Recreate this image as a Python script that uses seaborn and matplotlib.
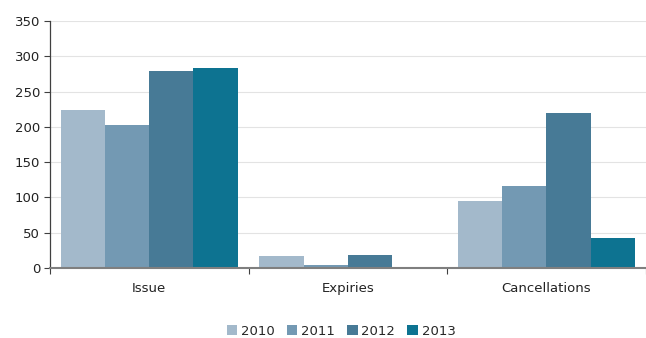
import matplotlib
matplotlib.use("Agg")
import matplotlib.pyplot as plt
import seaborn as sns
import pandas as pd
from matplotlib.patches import Patch

categories = ["Issue", "Expiries", "Cancellations"]
years = ["2010", "2011", "2012", "2013"]
values_2010 = [224, 17, 95]
values_2011 = [203, 4, 116]
values_2012 = [279, 18, 219]
values_2013 = [284, 0, 42]
colors = ["#A3B9CB", "#7399B3", "#477A96", "#0D7391"]

rows = []
for year, vals in zip(years, [values_2010, values_2011, values_2012, values_2013]):
    for cat, v in zip(categories, vals):
        rows.append({"category": cat, "year": year, "value": v})
df = pd.DataFrame(rows)

sns.set_theme(style="white")
plt.rcParams["font.family"] = ["DejaVu Sans"]

fig = plt.figure(figsize=(6.46, 3.38), dpi=100)
ax = fig.add_axes([0.0774, 0.207, 0.922, 0.731])

sns.barplot(data=df, x="category", y="value", hue="year", order=categories,
            hue_order=years, palette=colors, width=0.89, gap=0, saturation=1,
            linewidth=0, edgecolor="none", ax=ax, legend=False)

ax.set_ylim(0, 350)
ax.set_xlim(-0.5, 2.5)
ax.set_yticks(range(0, 351, 50))
ax.yaxis.grid(True, color="#E3E3E3", linewidth=0.8)
ax.set_axisbelow(True)
ax.set_xlabel("")
ax.set_ylabel("")

for s in ["top", "right"]:
    ax.spines[s].set_visible(False)
ax.spines["left"].set_color("#404040")
ax.spines["left"].set_linewidth(0.9)
ax.spines["bottom"].set_color("#7F7F7F")
ax.spines["bottom"].set_linewidth(1.5)

ax.tick_params(axis="y", which="major", left=True, length=4, width=0.8,
               color="#404040", labelsize=9.5, labelcolor="#222222", pad=3)
ax.set_xticks([0, 1, 2])
ax.set_xticklabels(categories)
ax.tick_params(axis="x", which="major", bottom=False, labelsize=9.5,
               labelcolor="#222222", pad=4)
ax.set_xticks([-0.5, 0.5, 1.5, 2.5], minor=True)
ax.tick_params(axis="x", which="minor", bottom=True, length=4, width=0.8,
               color="#404040")

handles = [Patch(facecolor=c, edgecolor="none", label=y) for c, y in zip(colors, years)]
fig.legend(handles=handles, loc="center", bbox_to_anchor=(0.528, 0.02),
           ncol=4, frameon=False, fontsize=9.5, handlelength=0.8, handleheight=0.8,
           handletextpad=0.3, columnspacing=0.9, bbox_transform=fig.transFigure)

fig.savefig("out.png", dpi=100)
